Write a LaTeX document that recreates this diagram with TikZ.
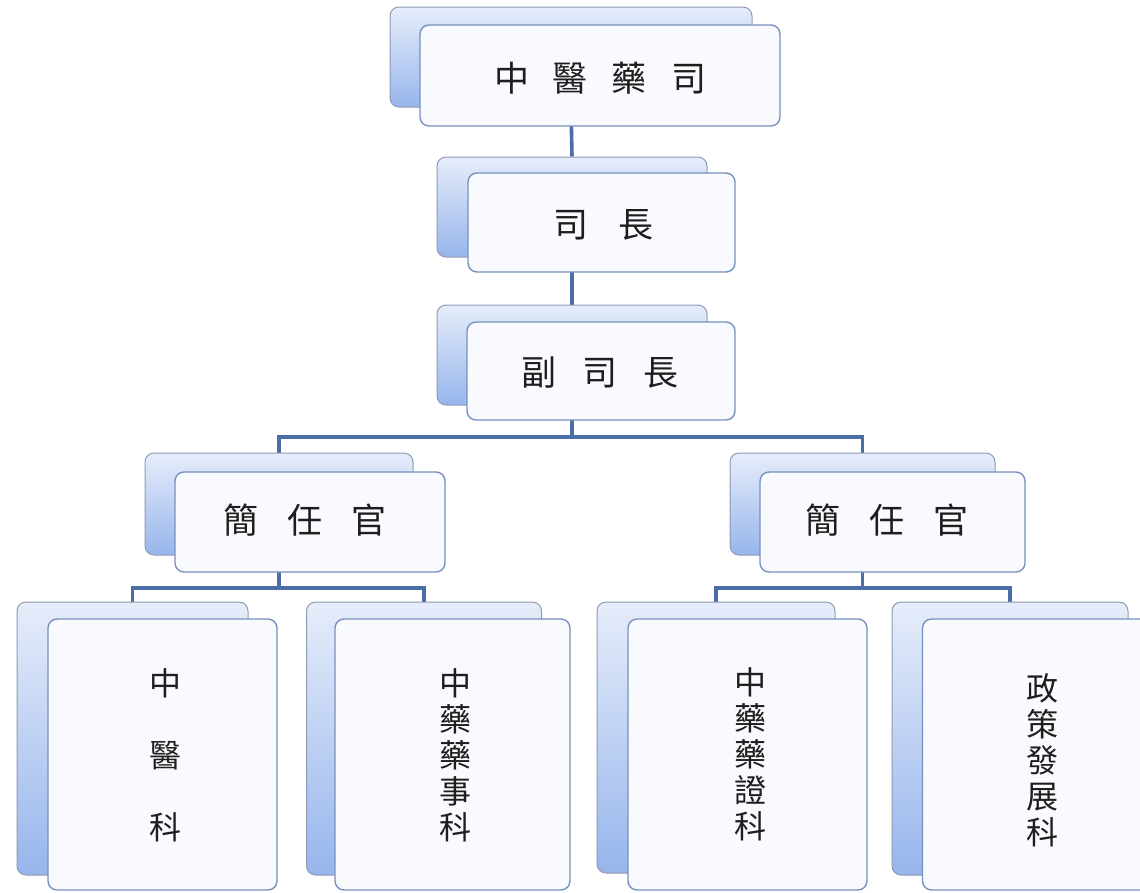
\documentclass[tikz,border=0pt]{standalone}
\usepackage{fontspec}
\newfontfamily\cjk{Noto Sans CJK TC}
\pgfdeclarelayer{bg}
\pgfsetlayers{bg,main}
\definecolor{connc}{HTML}{4A6FA6}
\definecolor{backedge}{HTML}{8E9BB3}
\definecolor{backtop}{HTML}{E6EDFA}
\definecolor{backbot}{HTML}{97B5EC}
\definecolor{frontedge}{HTML}{7891BE}
\definecolor{frontfill}{HTML}{F8FAFE}
\definecolor{textc}{HTML}{1E1E1E}
\begin{document}
\begin{tikzpicture}[x=1pt,y=-1pt,
  backbox/.style={draw=backedge, line width=1pt, rounded corners=9pt, top color=backtop, bottom color=backbot, inner sep=0pt},
  frontbox/.style={draw=frontedge, line width=1.4pt, rounded corners=9pt, fill=frontfill, inner sep=0pt},
  conn/.style={draw=connc, line width=3.6pt},
  hlbl/.style={font=\cjk\fontsize{35}{40}\selectfont, text=textc, inner sep=0pt},
  vlbl/.style={font=\cjk\fontsize{32}{36}\selectfont, text=textc, inner sep=0pt, align=center}]
\useasboundingbox (0,0) rectangle (1140,892);

% level 1
\node[backbox, minimum width=362pt, minimum height=100pt] (b1) at (571,57) {};
\node[frontbox, minimum width=360pt, minimum height=101pt] (f1) at (600,75.5) {};
\node[hlbl] (t1) at (600,78) {中\hspace{24pt}醫\hspace{24pt}藥\hspace{24pt}司};

% level 2
\node[backbox, minimum width=270pt, minimum height=100pt] (b2) at (572,207) {};
\node[frontbox, minimum width=267pt, minimum height=99pt] (f2) at (601.5,222.5) {};
\node[hlbl] (t2) at (603,225) {司\hspace{30pt}長};

% level 3
\node[backbox, minimum width=270pt, minimum height=100pt] (b3) at (572,355) {};
\node[frontbox, minimum width=268pt, minimum height=98pt] (f3) at (601,371) {};
\node[hlbl] (t3) at (600,373) {副\hspace{26pt}司\hspace{26pt}長};

% level 4
\node[backbox, minimum width=268pt, minimum height=102pt] (b4) at (279,504) {};
\node[frontbox, minimum width=270pt, minimum height=100pt] (f4) at (310,522) {};
\node[hlbl] (t4) at (305,520) {簡\hspace{29pt}任\hspace{29pt}官};

\node[backbox, minimum width=265pt, minimum height=102pt] (b5) at (862.5,504) {};
\node[frontbox, minimum width=265pt, minimum height=100pt] (f5) at (892.5,522) {};
\node[hlbl] (t5) at (887,520) {簡\hspace{29pt}任\hspace{29pt}官};

% level 5
\node[backbox, minimum width=231pt, minimum height=273pt] (b6) at (132.5,738.5) {};
\node[frontbox, minimum width=229pt, minimum height=271pt] (f6) at (162.5,754.5) {};
\node[vlbl] (t6) at (165,755) {中\\[36pt]醫\\[36pt]科};

\node[backbox, minimum width=235pt, minimum height=273pt] (b7) at (424,738.5) {};
\node[frontbox, minimum width=235pt, minimum height=271pt] (f7) at (452.5,754.5) {};
\node[vlbl] (t7) at (455,755) {中\\藥\\藥\\事\\科};

\node[backbox, minimum width=238pt, minimum height=271pt] (b8) at (716,737.5) {};
\node[frontbox, minimum width=239pt, minimum height=271pt] (f8) at (747.5,754.5) {};
\node[vlbl] (t8) at (750,754) {中\\藥\\藥\\證\\科};

\node[backbox, minimum width=236pt, minimum height=273pt] (b9) at (1010,738.5) {};
\node[frontbox, minimum width=239pt, minimum height=271pt] (f9) at (1042,754.5) {};
\node[vlbl] (t9) at (1042,760) {政\\策\\發\\展\\科};

% connectors
\coordinate (j3) at (572,437);
\coordinate (j4) at (279,588);
\coordinate (j5) at (862.5,588);
\begin{pgfonlayer}{bg}
\fill[white] (0,0) rectangle (1140,892);
\draw[conn] (b1.south) -- (b2.north);
\draw[conn] (b2.south) -- (b3.north);
\draw[conn] (b3.south) -- (j3);
\draw[conn] (j3) -| (b4.north);
\draw[conn] (j3) -| (b5.north);
\draw[conn] (b4.south) -- (j4);
\draw[conn] (j4) -| (b6.north);
\draw[conn] (j4) -| (b7.north);
\draw[conn] (b5.south) -- (j5);
\draw[conn] (j5) -| (b8.north);
\draw[conn] (j5) -| (b9.north);
\end{pgfonlayer}
\end{tikzpicture}
\end{document}
